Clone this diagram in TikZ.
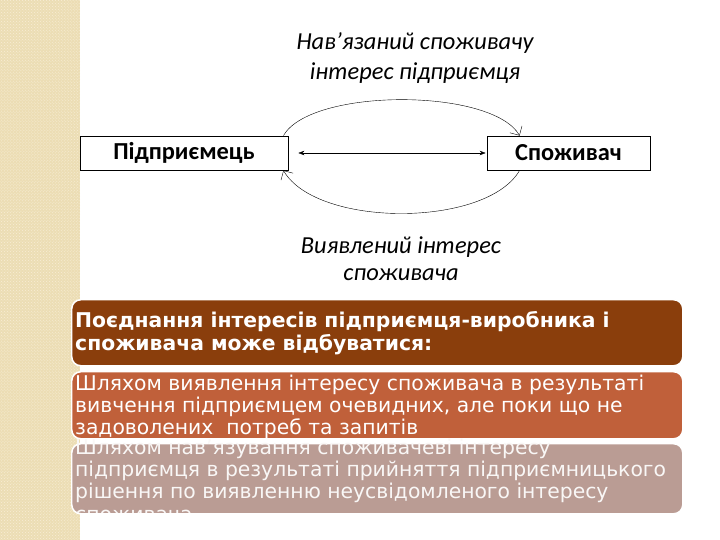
\documentclass[tikz,border=0pt]{standalone}
\usepackage{fontspec}
\setmainfont{Carlito}
\newfontfamily\blockfont{DejaVu Sans}
\usetikzlibrary{arrows.meta,patterns}
\definecolor{strip}{RGB}{236,221,180}
\definecolor{stripdot}{RGB}{247,238,214}
\definecolor{blockA}{RGB}{138,62,12}
\definecolor{blockB}{RGB}{192,96,58}
\definecolor{blockC}{RGB}{186,156,148}

\begin{document}
\begin{tikzpicture}[x=1bp,y=-1bp,>=Stealth,every node/.style={font=\fontsize{24.5}{30}\selectfont}]
\useasboundingbox (0,0) rectangle (720,540);
\fill[strip] (0,0) rectangle (80,540);
\fill[pattern=crosshatch dots,pattern color=stripdot] (0,0) rectangle (80,540);
\node[draw,line width=0.8pt,minimum width=208bp,minimum height=34bp,inner sep=0pt,font=\fontsize{24.5}{28}\selectfont\bfseries] (ent) at (184,153) {Підприємець};
\node[draw,line width=0.8pt,minimum width=163bp,minimum height=34bp,inner sep=0pt,font=\fontsize{24.5}{28}\selectfont\bfseries] (cons) at (568.5,153) {Споживач};
\draw[{Stealth[length=6bp]}-{Stealth[length=6bp]},shorten <=10bp,shorten >=1bp] (ent)--(cons);
\draw[-{Straight Barb[length=7bp]},line width=0.4pt] ([xshift=-5bp]ent.north east) to[out=60,in=120,looseness=0.6] ([xshift=33bp]cons.north west);
\draw[-{Straight Barb[length=7bp]},line width=0.4pt] ([xshift=33bp]cons.south west) to[out=-120,in=-60,looseness=0.72] ([xshift=-5bp]ent.south east);
\node[align=center,font=\fontsize{24.5}{31}\selectfont\itshape] (push) at (415,58) {Нав’язаний споживачу\\інтерес підприємця};
\node[align=center,font=\fontsize{24.5}{27}\selectfont\itshape] (found) at (401,259) {Виявлений інтерес\\споживача};
% three coloured blocks
\node[fill=blockA,draw=white,line width=1.5pt,rounded corners=9bp,minimum width=611bp,minimum height=66bp,anchor=north west] (b1) at (71,299) {};
\node[fill=blockB,draw=white,line width=1.5pt,rounded corners=9bp,minimum width=611bp,minimum height=67bp,anchor=north west] (b2) at (71,371) {};
\node[fill=blockC,draw=white,line width=1.5pt,rounded corners=9bp,minimum width=611bp,minimum height=70bp,anchor=north west] (b3) at (71,443) {};
\node[anchor=north west,align=left,text=white,inner sep=0pt,font=\blockfont\fontsize{20.4}{23}\selectfont\bfseries] (t1) at (75,311) {Поєднання інтересів підприємця-виробника і\\споживача може відбуватися:};
\node[anchor=north west,align=left,text=white,inner sep=0pt,font=\blockfont\fontsize{20.4}{22.5}\selectfont] (t2) at (75,374.5) {Шляхом виявлення інтересу споживача в результаті\\вивчення підприємцем очевидних, але поки що не\\задоволених \ потреб та запитів};
\begin{scope}
\clip (60,430) rectangle (700,512);
\node[anchor=north west,align=left,text=white!92!blockC,inner sep=0pt,font=\blockfont\fontsize{20.4}{22.5}\selectfont] (t3) at (75,438.5) {Шляхом нав’язування споживачеві інтересу\\підприємця в результаті прийняття підприємницького\\рішення по виявленню неусвідомленого інтересу\\споживача};
\end{scope}
\end{tikzpicture}
\end{document}
